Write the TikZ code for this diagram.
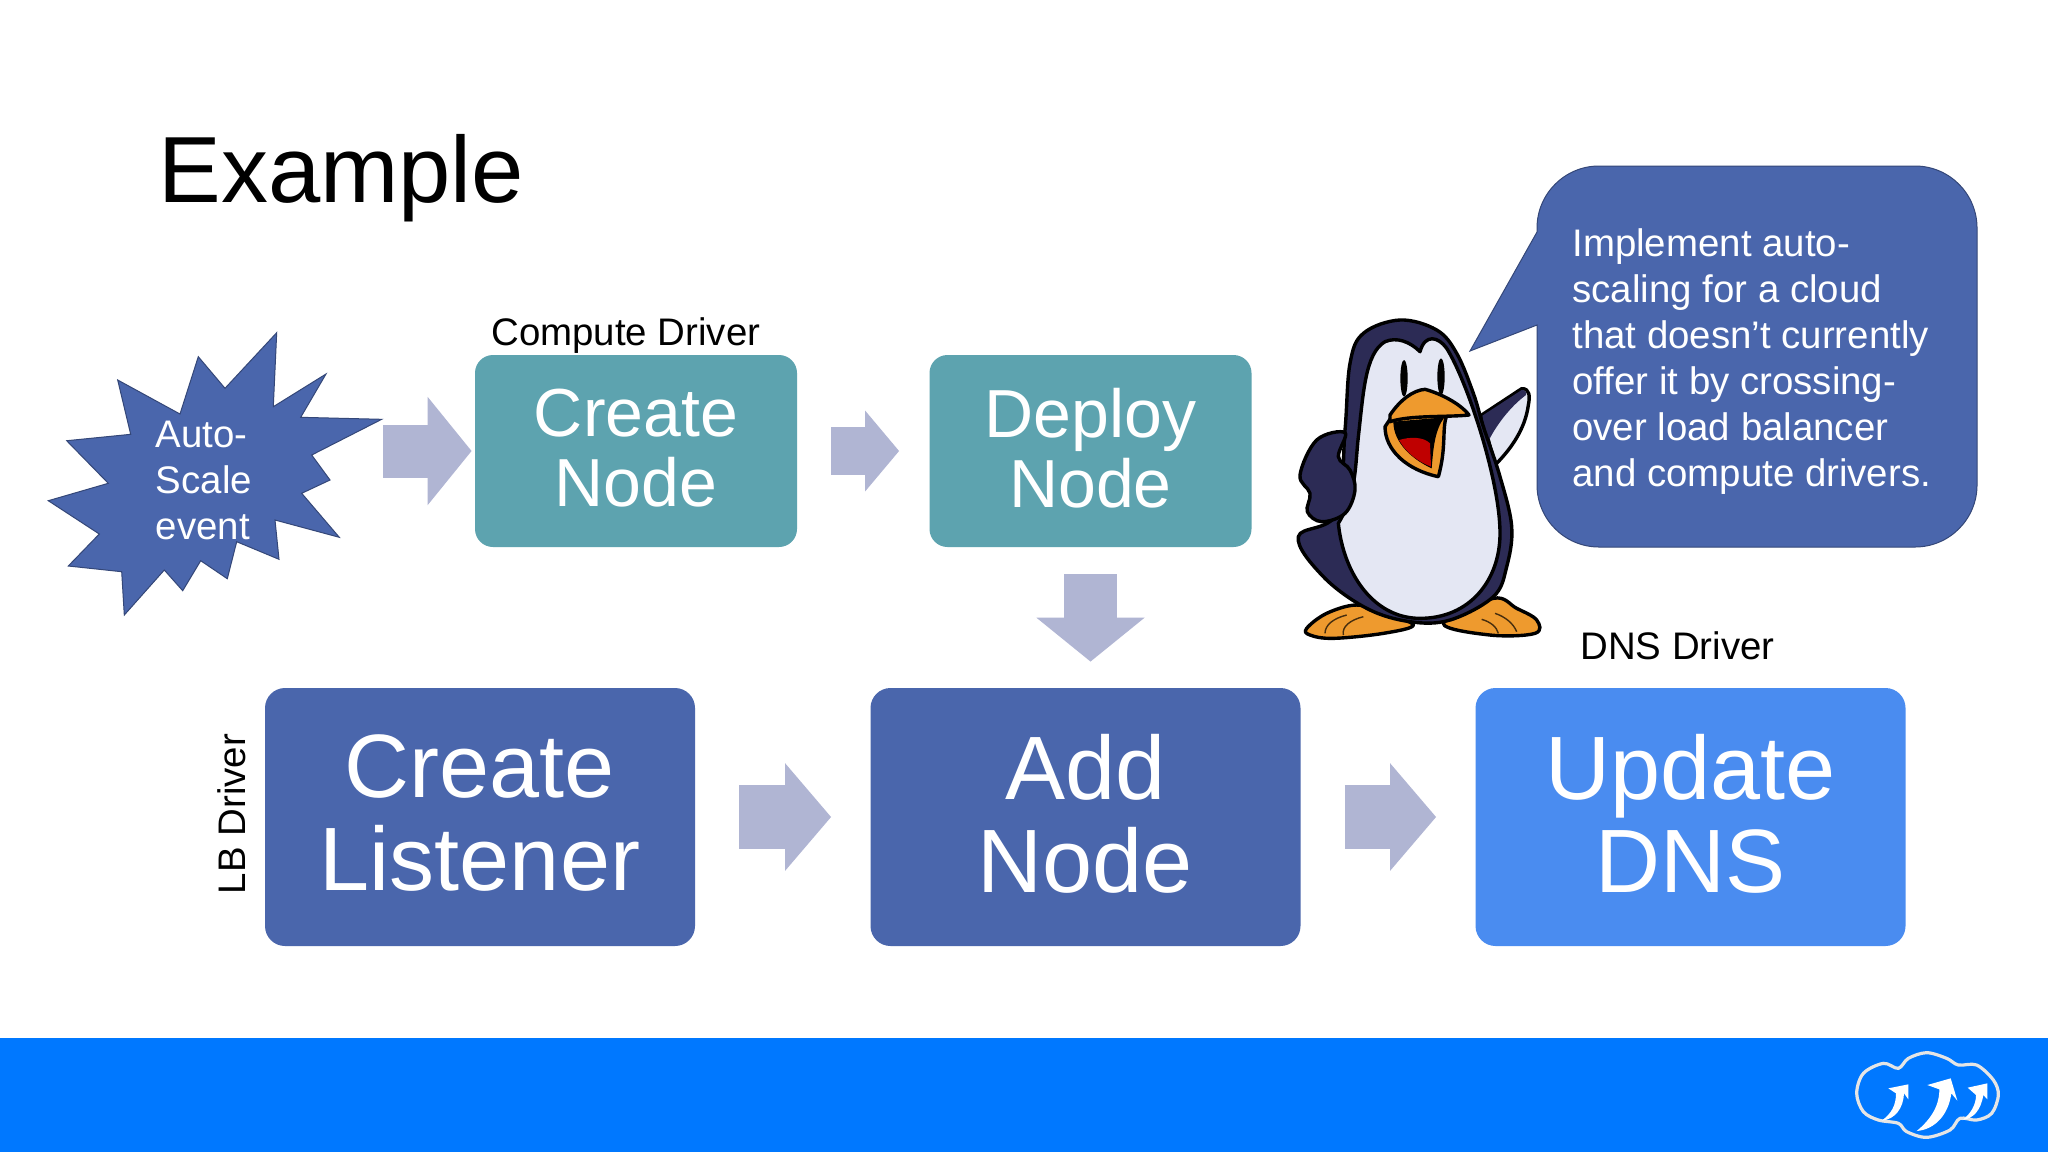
\documentclass[tikz,border=0pt]{standalone}
\usepackage{fontspec}
\setmainfont{Liberation Sans}
\usetikzlibrary{arrows.meta}
\definecolor{tealbox}{HTML}{5DA3AF}
\definecolor{bluebox}{HTML}{4A66AC}
\definecolor{lightbox}{HTML}{4A8CF0}
\definecolor{blockgrey}{HTML}{B0B5D3}
\definecolor{barblue}{HTML}{0078FF}
\definecolor{penguinnavy}{HTML}{2C2B55}
\definecolor{penguinbelly}{HTML}{E4E7F3}
\definecolor{beakorange}{HTML}{EE9A2E}
\begin{document}
\begin{tikzpicture}
      [x=0.5pt,y=-0.5pt,
       smallbox/.style={rectangle,rounded corners=9pt,fill=tealbox,text=white,align=center,inner sep=0pt,
         minimum width=161pt,minimum height=96pt,text depth=3pt,font=\fontsize{34}{35}\selectfont},
       bigbox/.style={rectangle,rounded corners=10pt,fill=bluebox,text=white,align=center,inner sep=0pt,
         minimum width=215pt,minimum height=129pt,text depth=4pt,font=\fontsize{45}{46.5}\selectfont},
       drivername/.style={inner sep=0pt,font=\fontsize{19.2}{23}\selectfont},
       whitenote/.style={inner sep=0pt,text=white,align=left,font=\fontsize{19.2}{23}\selectfont},
       smallarrow/.style={draw=blockgrey,line width=24pt,-{Triangle[length=17pt,width=39.5pt]}},
       bigarrow/.style={draw=blockgrey,line width=26.5pt,-{Triangle[length=22pt,width=53pt]}},
       widearrow/.style={draw=blockgrey,line width=32pt,-{Triangle[length=23pt,width=52.5pt]}},
       penguinline/.style={draw=black,line width=1.7pt,line join=round},
       toeline/.style={draw=black!70!beakorange,line width=0.7pt}]
      \useasboundingbox (0,0) rectangle (2048,1152);
      \fill[white] (0,0) rectangle (2048,1152);
      \fill[barblue] (0,1038) rectangle (2048,1152);
      \node[inner sep=0pt,anchor=base west,font=\fontsize{47}{50}\selectfont] (title) at (158,202) {Example};

      \draw[fill=bluebox,draw=bluebox!70!black,line width=0.5pt]
        (276.7,332.7) -- (273.3,406.7) -- (326,374) -- (300.7,417.3) -- (381.7,419.3) -- (311.7,455)
        -- (330,480) -- (301.7,493.3) -- (339.3,537.3) -- (275,520) -- (279,559.3) -- (236.7,541.7)
        -- (227.3,578.7) -- (200.7,560.7) -- (182.7,590.7) -- (164.3,570) -- (124.3,615) -- (121.7,571.7)
        -- (68.3,566) -- (99.3,534) -- (48.3,500.7) -- (108.3,483.3) -- (66.7,440.7) -- (130.7,434.3)
        -- (117.7,380) -- (180,414) -- (198.3,356.7) -- (225,388.3) -- cycle;
      \node[whitenote,anchor=north west] (autoscale) at (155.5,421) {Auto-\\Scale\\event};
      \coordinate (autotail) at (383,451);

      \node[smallbox] (createnode) at (636,451) {Create\\Node};
      \node[smallbox] (deploynode) at (1090.5,451) {Deploy\\Node};
      \node[bigbox] (createlistener) at (480,817) {Create\\Listener};
      \node[bigbox] (addnode) at (1085.5,817) {Add\\Node};
      \node[bigbox,fill=lightbox] (updatedns) at (1690.5,817) {Update\\DNS};

      \node[drivername,anchor=base west] (computedriver) at (491,345) {Compute Driver};
      \node[drivername,anchor=base west] (dnsdriver) at (1580,659.5) {DNS Driver};
      \node[drivername,rotate=90] (lbdriver) at (232,814) {LB Driver};

      \draw[bigarrow,shorten >=1.5pt] (autotail) -- (createnode);
      \draw[smallarrow,shorten <=17pt,shorten >=15pt] (createnode) -- (deploynode);
      \draw[bigarrow,shorten <=13.5pt,shorten >=13pt] (deploynode.south) -- (deploynode.south |- addnode.north);
      \draw[widearrow,shorten <=22pt,shorten >=19.5pt] (createlistener) -- (addnode);
      \draw[widearrow,shorten <=22pt,shorten >=19.5pt] (addnode) -- (updatedns);

      \draw[fill=bluebox,draw=bluebox!70!black,line width=0.5pt,rounded corners=31pt]
        (1537,232) [sharp corners] -- (1470,351) -- (1537,325) [rounded corners=31pt]
        -- (1537,547) -- (1977,547) -- (1977,166) -- (1537,166) [sharp corners] -- cycle;
      \node[whitenote,anchor=north west] (saying) at (1572,228) {Implement auto-\\scaling for a cloud\\that doesn’t currently\\offer it by crossing-\\over load balancer\\and compute drivers.};

      \begin{scope}[shift={(1250,280)},x=0.16667pt,y=-0.16667pt]
        \draw[penguinline,fill=penguinbelly] (695,405) -- (815,326) .. controls (840,325) and (840,350) .. (835,375)
          .. controls (825,450) and (780,510) .. (735,555) -- cycle;
        \fill[penguinnavy] (697,407) -- (815,330) .. controls (825,330) and (830,335) .. (828,345)
          .. controls (780,380) and (735,440) .. (712,490) -- cycle;
        \draw[penguinline,fill=beakorange] plot[smooth cycle,tension=0.6] coordinates
          {(170,1045) (230,1000) (320,975) (400,1000) (490,1035) (400,1060) (250,1075) (180,1065)};
        \draw[penguinline,fill=beakorange] plot[smooth cycle,tension=0.6] coordinates
          {(580,1030) (730,955) (800,985) (860,1020) (855,1060) (720,1065)};
        \draw[toeline] (225,1060) .. controls (225,1035) and (250,1015) .. (290,1005);
        \draw[toeline] (280,1065) .. controls (275,1040) and (300,1020) .. (340,1010);
        \draw[toeline] (800,1055) .. controls (790,1030) and (765,1010) .. (735,1000);
        \draw[toeline] (745,1060) .. controls (740,1040) and (720,1025) .. (695,1018);
        \draw[penguinline,fill=penguinnavy] plot[smooth cycle,tension=0.6] coordinates
          {(450,120) (560,150) (620,220) (670,340) (700,440) (750,590) (785,740) (770,860) (730,950)
           (600,1020) (480,1025) (350,985) (220,890) (145,770) (260,700) (285,450) (300,250) (340,160)};
        \draw[penguinline,fill=penguinbelly] (510,215) .. controls (480,185) and (440,170) .. (405,185)
          .. controls (345,220) and (340,340) .. (325,470) .. controls (315,560) and (320,640) .. (265,730)
          .. controls (280,880) and (370,1015) .. (510,1015) .. controls (660,1015) and (750,900) .. (750,760)
          .. controls (750,600) and (650,300) .. (590,205) .. controls (565,170) and (525,160) .. (510,215) -- cycle;
        \draw[penguinline,fill=penguinnavy] plot[smooth cycle,tension=0.6] coordinates
          {(285,458) (200,480) (150,585) (180,640) (172,695) (215,725) (285,700) (315,630) (300,570) (265,530)};
        \fill[black] (462,295) ellipse [x radius=11,y radius=55];
        \fill[black] (573,290) ellipse [x radius=11,y radius=55];
        \draw[penguinline,fill=beakorange] (405,440) .. controls (405,510) and (470,570) .. (565,590)
          .. controls (590,500) and (575,450) .. (590,405) -- (425,410) -- cycle;
        \fill[black] (430,425) -- (583,412) .. controls (555,450) and (550,500) .. (545,565)
          .. controls (490,540) and (430,490) .. (430,425) -- cycle;
        \fill[red!75!black] (447,480) .. controls (480,470) and (520,470) .. (540,490) -- (543,560)
          .. controls (505,545) and (470,520) .. (447,480) -- cycle;
        \draw[penguinline,fill=beakorange] (420,405) .. controls (450,360) and (490,330) .. (525,328)
          .. controls (570,340) and (630,370) .. (657,405) .. controls (590,412) and (480,405) .. (420,425) -- cycle;
      \end{scope}

      \begin{scope}[shift={(1820,1030)},x=0.16667pt,y=-0.16667pt]
        \draw[draw=white!80!gray,line width=1.6pt] plot[smooth cycle,tension=0.55] coordinates
          {(110,190) (130,130) (190,100) (235,115) (265,85) (320,68) (380,85) (415,105) (470,105)
           (520,150) (535,195) (515,250) (470,270) (420,265) (390,300) (320,322) (260,305) (235,280)
           (175,270) (130,245)};
        \fill[white] (185,272) .. controls (215,250) and (228,225) .. (228,190) -- (205,175) -- (265,163)
          -- (265,208) -- (252,190) .. controls (250,235) and (225,268) .. (185,272) -- cycle;
        \fill[white] (290,303) .. controls (330,270) and (358,230) .. (358,178) -- (322,165) -- (392,145)
          -- (412,212) -- (394,190) .. controls (385,255) and (345,298) .. (290,303) -- cycle;
        \fill[white] (428,270) .. controls (452,250) and (468,225) .. (468,195) -- (443,173) -- (502,160)
          -- (502,208) -- (490,195) .. controls (482,242) and (460,265) .. (428,270) -- cycle;
      \end{scope}
    \end{tikzpicture}
\end{document}
